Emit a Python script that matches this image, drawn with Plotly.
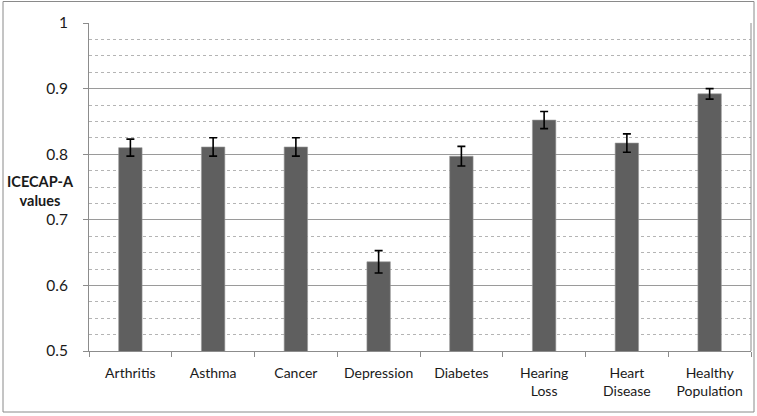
import plotly.graph_objects as go

categories = ["Arthritis", "Asthma", "Cancer", "Depression", "Diabetes",
              "Hearing<br>Loss", "Heart<br>Disease", "Healthy<br>Population"]
values = [0.810, 0.811, 0.811, 0.636, 0.797, 0.852, 0.817, 0.892]
errors = [0.013, 0.014, 0.014, 0.017, 0.015, 0.013, 0.014, 0.008]
y_ticks = [0.5, 0.6, 0.7, 0.8, 0.9, 1.0]
y_ticktext = ["0.5", "0.6", "0.7", "0.8", "0.9", "1"]

FONT = "Lato"

fig = go.Figure()
fig.add_trace(go.Bar(
    x=categories, y=values,
    marker=dict(color="#5f5f5f", line=dict(color="#9a9a9a", width=0.6)),
    error_y=dict(type="data", array=errors, visible=True,
                 color="black", thickness=1.6, width=4),
    width=0.283,
))

W, H = 757, 416
L, R, T, B = 89, 6, 23, 65

fig.update_layout(
    width=W, height=H,
    margin=dict(l=L, r=R, t=T, b=B),
    plot_bgcolor="white", paper_bgcolor="white",
    showlegend=False,
    font=dict(family=FONT, size=13, color="#1a1a1a"),
    xaxis=dict(
        showline=True, linecolor="#8c8c8c", linewidth=1,
        ticks="outside", tickson="boundaries", ticklen=5, tickcolor="#8c8c8c",
        tickfont=dict(family=FONT, size=14, color="#1a1a1a"),
        ticklabelstandoff=9,
        showgrid=False,
    ),
    yaxis=dict(
        range=[0.5, 1.0],
        tickvals=y_ticks, ticktext=y_ticktext,
        showline=True, linecolor="#8c8c8c", linewidth=1,
        ticks="outside", ticklen=5, tickcolor="#8c8c8c",
        tickfont=dict(family=FONT, size=15.5, color="#1a1a1a"),
        ticklabelstandoff=12,
        showgrid=True, gridcolor="#9a9a9a", gridwidth=1,
        zeroline=False,
        minor=dict(dtick=0.025, tick0=0.5, showgrid=True, gridcolor="#b4b4b4",
                   griddash="dot", gridwidth=1, ticks=""),
    ),
)

# right border of plot area
fig.add_shape(type="line", xref="paper", yref="paper", x0=1, x1=1, y0=0, y1=1,
              line=dict(color="#8c8c8c", width=1))

# outer chart border
pw = W - L - R
ph = H - T - B
def px_x(x):
    return (x - L) / pw
def px_y(y):
    return (H - B - y) / ph
fig.add_shape(type="rect", xref="paper", yref="paper",
              x0=px_x(3), x1=px_x(754), y0=px_y(412), y1=px_y(1.5),
              line=dict(color="#8a8a8a", width=1), layer="below")

fig.add_annotation(
    text="<b>ICECAP-A<br>values</b>", xref="paper", yref="paper",
    x=px_x(40), y=px_y(191), xanchor="center", yanchor="middle",
    showarrow=False, align="center",
    font=dict(family=FONT, size=14.5, color="#1a1a1a"),
)

fig.write_html("out.html", config={"displayModeBar": False},
               post_script="document.body.style.margin='0';document.body.style.overflow='hidden';")
